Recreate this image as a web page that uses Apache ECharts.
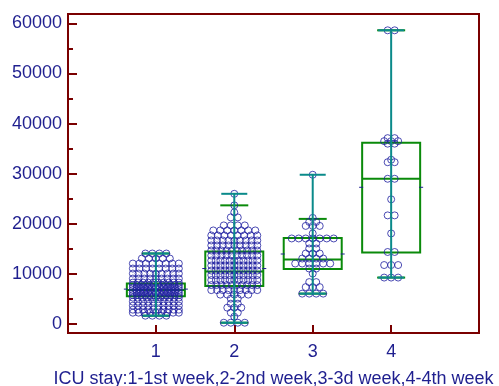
<!DOCTYPE html>
<html>
<head>
<meta charset="utf-8">
<script src="https://cdn.jsdelivr.net/npm/echarts@6/dist/echarts.min.js"></script>
<style>
html, body { margin: 0; padding: 0; background: #fff; }
#chart { width: 499px; height: 386px; }
</style>
</head>
<body>
<div id="chart"></div>
<script>
// groups on the x axis
var categories = [1, 2, 3, 4];

// dot values, one list per group
var week1 = [
  14100, 14100, 14100, 14100,
  13100, 13100, 13100, 13100, 13100,
  12100, 12100, 12100, 12100, 12100, 12100, 12100, 12100,
  11100, 11100, 11100, 11100, 11100, 11100, 11100, 11100,
  10100, 10100, 10100, 10100, 10100, 10100, 10100, 10100, 10100,
  9100, 9100, 9100, 9100, 9100, 9100, 9100, 9100, 9100,
  8300, 8300, 8300, 8300, 8300, 8300, 8300, 8300, 8300, 8300,
  7800, 7800, 7800, 7800, 7800, 7800, 7800, 7800, 7800, 7800, 7800, 7800,
  7300, 7300, 7300, 7300, 7300, 7300, 7300, 7300, 7300, 7300, 7300, 7300, 7300,
  6800, 6800, 6800, 6800, 6800, 6800, 6800, 6800, 6800, 6800, 6800, 6800, 6800, 6800,
  6300, 6300, 6300, 6300, 6300, 6300, 6300, 6300, 6300, 6300, 6300, 6300, 6300,
  5800, 5800, 5800, 5800, 5800, 5800, 5800, 5800, 5800, 5800, 5800, 5800,
  5300, 5300, 5300, 5300, 5300, 5300, 5300, 5300, 5300, 5300, 5300,
  4500, 4500, 4500, 4500, 4500, 4500, 4500, 4500, 4500, 4500,
  3700, 3700, 3700, 3700, 3700, 3700, 3700, 3700, 3700, 3700,
  2900, 2900, 2900, 2900, 2900, 2900, 2900, 2900, 2900, 2900,
  2300, 2300, 2300, 2300, 2300, 2300, 2300, 2300, 2300,
  1700, 1700, 1700, 1700
];
var week2 = [
  26000, 23700, 22300, 21300, 21300,
  19700, 19700, 19700, 19700,
  18700, 18700, 18700, 18700, 18700, 18700, 18700,
  17700, 17700, 17700, 17700, 17700, 17700, 17700, 17700,
  16700, 16700, 16700, 16700, 16700, 16700, 16700, 16700, 16700,
  15700, 15700, 15700, 15700, 15700, 15700, 15700, 15700, 15700,
  14700, 14700, 14700, 14700, 14700, 14700, 14700, 14700, 14700, 14700,
  13700, 13700, 13700, 13700, 13700, 13700, 13700, 13700, 13700, 13700,
  12700, 12700, 12700, 12700, 12700, 12700, 12700, 12700, 12700, 12700, 12700,
  11700, 11700, 11700, 11700, 11700, 11700, 11700, 11700, 11700, 11700, 11700,
  10700, 10700, 10700, 10700, 10700, 10700, 10700, 10700, 10700, 10700, 10700,
  9800, 9800, 9800, 9800, 9800, 9800, 9800, 9800, 9800, 9800, 9800,
  8800, 8800, 8800, 8800, 8800, 8800, 8800, 8800, 8800, 8800, 8800,
  7800, 7800, 7800, 7800, 7800, 7800, 7800, 7800, 7800, 7800,
  6800, 6800, 6800, 6800, 6800, 6800, 6800, 6800, 6800,
  5900, 5900, 5900, 5900, 5900,
  5100, 5100, 4100, 4100, 3300, 3300, 3300, 2300, 2300, 1500,
  300, 300, 300, 300
];
var week3 = [
  29800, 21200, 20400, 20400, 19600, 19600, 19600, 18100,
  17100, 17100, 17100, 17100, 17100, 17100, 17100,
  16100, 16100, 15100, 15100, 14100, 14100, 14100,
  13100, 13100, 13100, 13100,
  12100, 12100, 12100, 12100, 12100, 12100,
  11100, 11100, 10100, 8400, 8400, 7400, 7400, 7400,
  6100, 6100, 6100, 6100
];
var week4 = [
  58600, 58600, 37100, 37100, 36500, 36500, 36500, 36000, 36000,
  32800, 32300, 32300, 29000, 29000, 24900, 21700, 21700, 18100,
  14400, 14400, 11800, 11800, 11800, 9300, 9300, 9300
];
var groups = [week1, week2, week3, week4];

// box statistics
var q1Values = [5600, 7600, 11000, 14300];
var medianValues = [6800, 10500, 12900, 29000];
var q3Values = [8100, 14500, 17200, 36200];
var meanValues = [7000, 11100, 14000, 27300];
var lowerCaps = [1700, 300, 6100, 9300];
var upperCaps = [14100, 23700, 21000, 58600];
var minValues = [1700, 300, 6100, 9300];
var maxValues = [14100, 26000, 29800, 58600];

var yLabels = [0, 10000, 20000, 30000, 40000, 50000, 60000];
var yMinorTicks = [5000, 15000, 25000, 35000, 45000, 55000];

var X_MIN = -0.12, X_MAX = 5.12, GRID_W = 411;
var unitsPerPx = (X_MAX - X_MIN) / GRID_W;

var maroon = '#7a0000', navy = '#1f1f8f', green = '#0a8a0a', teal = '#0a8a8a';
var font = 'Liberation Sans';

// spread equal values side by side
function swarm(values, center) {
  var rows = {};
  values.forEach(function (v) { (rows[v] = rows[v] || []).push(v); });
  var pts = [];
  Object.keys(rows).forEach(function (k) {
    var n = rows[k].length;
    var step = n > 1 ? Math.min(7, 46 / (n - 1)) : 0;
    for (var i = 0; i < n; i++) {
      var off = (i - (n - 1) / 2) * step;
      pts.push([center + off * unitsPerPx, +k]);
    }
  });
  return pts;
}

var dots = [];
groups.forEach(function (g, i) { dots = dots.concat(swarm(g, categories[i])); });

var boxData = categories.map(function (c, i) {
  return [c, q1Values[i], medianValues[i], q3Values[i], meanValues[i], lowerCaps[i], upperCaps[i]];
});
var rangeData = categories.map(function (c, i) {
  return [c, minValues[i], maxValues[i]];
});

function hline(x1, x2, y, color, w) {
  return { type: 'line', shape: { x1: x1, y1: y, x2: x2, y2: y }, style: { stroke: color, lineWidth: w } };
}

var myChart = echarts.init(document.getElementById('chart'));
var option = {
  animation: false,
  grid: { left: 68, right: 20, top: 14, bottom: 53, show: true, borderColor: maroon, borderWidth: 2,
    containLabel: false, outerBoundsMode: 'none' },
  xAxis: {
    type: 'value', min: X_MIN, max: X_MAX,
    name: 'ICU stay:1-1st week,2-2nd week,3-3d week,4-4th week',
    nameLocation: 'middle', nameGap: 37,
    nameTextStyle: { color: navy, fontSize: 18, fontFamily: font },
    axisLine: { show: true, onZero: false, lineStyle: { color: maroon, width: 2 } },
    axisTick: { show: true, inside: true, length: 8, customValues: categories, lineStyle: { color: maroon, width: 2 } },
    axisLabel: { customValues: categories, color: navy, fontSize: 18, fontFamily: font, margin: 10 },
    splitLine: { show: false }
  },
  yAxis: [{
    type: 'value', min: -1750, max: 61850,
    axisLine: { show: true, onZero: false, lineStyle: { color: maroon, width: 2 } },
    axisTick: { show: true, inside: true, length: 9, customValues: yLabels, lineStyle: { color: maroon, width: 2 } },
    axisLabel: { customValues: yLabels, formatter: function (v) { return String(v); },
      color: navy, fontSize: 18, fontFamily: font, margin: 6 },
    splitLine: { show: false }
  }, {
    type: 'value', min: -1750, max: 61850, position: 'left', offset: 0,
    axisLine: { show: false, onZero: false },
    axisTick: { show: true, inside: true, length: 5, customValues: yMinorTicks, lineStyle: { color: maroon, width: 2 } },
    axisLabel: { show: false },
    splitLine: { show: false }
  }],
  series: [{
    type: 'custom',
    z: 1,
    data: boxData,
    renderItem: function (params, api) {
      var x = api.value(0);
      var pq1 = api.coord([x, api.value(1)]);
      var pmed = api.coord([x, api.value(2)]);
      var pq3 = api.coord([x, api.value(3)]);
      var pmean = api.coord([x, api.value(4)]);
      var plo = api.coord([x, api.value(5)]);
      var phi = api.coord([x, api.value(6)]);
      var cx = pq1[0], hw = 29, cw = 14;
      return {
        type: 'group',
        children: [
          { type: 'rect', shape: { x: cx - hw, y: pq3[1], width: hw * 2, height: pq1[1] - pq3[1] },
            style: { fill: 'none', stroke: green, lineWidth: 2 } },
          hline(cx - hw, cx + hw, pmed[1], green, 2),
          hline(cx - cw, cx + cw, plo[1], green, 2),
          hline(cx - cw, cx + cw, phi[1], green, 2),
          hline(cx - hw - 3, cx - hw + 1, pmean[1], navy, 1),
          hline(cx + hw - 1, cx + hw + 3, pmean[1], navy, 1)
        ]
      };
    }
  }, {
    type: 'scatter',
    z: 2,
    data: dots,
    symbol: 'circle',
    symbolSize: 7,
    itemStyle: { color: 'rgba(0,0,0,0)', borderColor: '#1f1fa0', borderWidth: 1 }
  }, {
    type: 'custom',
    z: 3,
    data: rangeData,
    renderItem: function (params, api) {
      var x = api.value(0);
      var plo = api.coord([x, api.value(1)]);
      var phi = api.coord([x, api.value(2)]);
      var cx = plo[0], cw = 13;
      return {
        type: 'group',
        children: [
          { type: 'line', shape: { x1: cx, y1: plo[1], x2: cx, y2: phi[1] }, style: { stroke: teal, lineWidth: 2 } },
          hline(cx - cw, cx + cw, plo[1], teal, 2),
          hline(cx - cw, cx + cw, phi[1], teal, 2)
        ]
      };
    }
  }]
};
myChart.setOption(option);
</script>
</body>
</html>
